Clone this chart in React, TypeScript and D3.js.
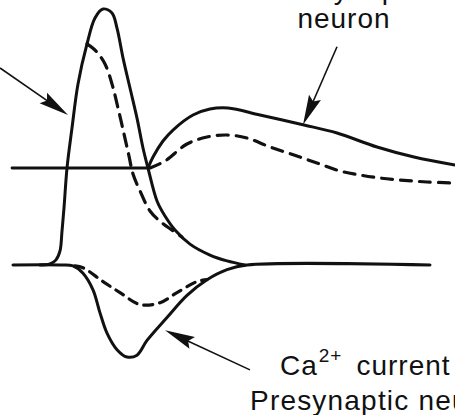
import React from 'react';
import * as d3 from 'd3';

const W = 455;
const H = 415;

// Presynaptic action potential, control (solid) and reduced (dashed): time in ms, membrane potential in mV
const apTime = [0.8, 1.0, 1.12, 1.2, 1.24, 1.28, 1.34, 1.44, 1.56, 1.74, 1.9, 2.06, 2.24, 2.34, 2.46, 2.6, 2.74, 2.86, 2.96, 3.14, 3.3, 3.5, 3.8, 4.2, 4.54, 4.9];
const apVolt = [-70, -69.6, -68.0, -64.5, -56.7, -47.6, -32.0, -16.3, 1.0, 16.7, 26.9, 30.4, 28.8, 22.9, 11.2, -0.6, -12.4, -24.1, -32.0, -44.9, -50.8, -56.3, -61.8, -66.1, -68.4, -70];
const apDashTime = [1.74, 1.92, 2.1, 2.24, 2.36, 2.48, 2.58, 2.66, 2.82, 3.0, 3.24, 3.44, 3.64];
const apDashVolt = [16.7, 13.9, 8.8, 1.0, -8.4, -18.6, -27.3, -34.3, -41.8, -48.8, -53.5, -56.3, -59.0];

// Postsynaptic potential relative to rest, mV
const pspBaseTime = [0.24, 2.96];
const pspTime = [2.96, 3.06, 3.26, 3.46, 3.86, 4.2, 4.56, 5.2, 6.08, 6.74, 7.54, 8.28, 9.1];
const pspVolt = [0, 1.83, 4.5, 6.33, 8.83, 9.83, 10, 8.83, 7.17, 5.83, 3.5, 1.83, 0.5];
const pspDashTime = [3.0, 3.3, 3.74, 4.14, 4.54, 4.94, 5.4, 5.88, 6.34, 6.8, 7.2, 7.6, 8.0, 8.54, 9.1];
const pspDashVolt = [0, 1.17, 4.0, 5.17, 5.5, 5.0, 3.5, 2.17, 0.83, -0.5, -1.17, -1.67, -2.0, -2.33, -2.5];

// Presynaptic Ca2+ current, normalised to the control peak
const caTime = [0.26, 1.2, 1.46, 1.66, 1.86, 2.0, 2.14, 2.34, 2.54, 2.74, 2.94, 3.34, 3.74, 4.14, 4.54, 4.94, 8.6];
const caCurrent = [0, 0, -0.01, -0.09, -0.27, -0.52, -0.74, -0.92, -1.0, -0.98, -0.82, -0.57, -0.33, -0.16, -0.05, 0, 0];
const caDashTime = [1.5, 1.66, 2.06, 2.4, 2.8, 3.2, 3.54, 3.94, 4.14];
const caDashCurrent = [-0.01, -0.03, -0.18, -0.3, -0.43, -0.41, -0.3, -0.18, -0.16];

// Pointer arrows: [tailTime, tailValue, tipTime, tipValue] in the units of the trace they point to
const apArrow = [0, 7.25, 1.36, -11.2];
const pspArrow = [6.74, 20.2, 6.06, 7.2];
const caArrow = [5.0, -1.14, 3.3, -0.71];

const zipPts = (xs: number[], ys: number[]) => xs.map((x, i) => [x, ys[i]] as [number, number]);

export default function App() {
  const x = d3.scaleLinear().domain([0, 9.1]).range([0, W]);
  const yAP = d3.scaleLinear().domain([-70, 30]).range([265, 10]);
  const yPSP = d3.scaleLinear().domain([0, 10]).range([168, 108]);
  const yCa = d3.scaleLinear().domain([-1, 0]).range([357, 265]);

  const mk = (ys: d3.ScaleLinear<number, number>) =>
    d3
      .line<[number, number]>()
      .x((d) => x(d[0]))
      .y((d) => ys(d[1]))
      .curve(d3.curveCatmullRom.alpha(0.5));

  const lineAP = mk(yAP);
  const linePSP = mk(yPSP);
  const lineCa = mk(yCa);

  const ink = '#111';

  const arrow = (a: number[], ys: d3.ScaleLinear<number, number>, key: string) => {
    const x0 = x(a[0]);
    const y0 = ys(a[1]);
    const x1 = x(a[2]);
    const y1 = ys(a[3]);
    const ang = Math.atan2(y1 - y0, x1 - x0);
    const len = 30;
    const hw = 6.5;
    const bx = x1 - len * Math.cos(ang);
    const by = y1 - len * Math.sin(ang);
    const nx = -Math.sin(ang) * hw;
    const ny = Math.cos(ang) * hw;
    const head = `M${x1},${y1}L${bx + nx},${by + ny}L${bx + (x1 - bx) * 0.15},${by + (y1 - by) * 0.15}L${bx - nx},${by - ny}Z`;
    return (
      <g key={key}>
        <line x1={x0} y1={y0} x2={bx + (x1 - bx) * 0.3} y2={by + (y1 - by) * 0.3} stroke={ink} strokeWidth={1.6} />
        <path d={head} fill={ink} />
      </g>
    );
  };

  const font = 'Liberation Sans, Arial, Helvetica, sans-serif';

  return (
    <svg
      width={W}
      height={H}
      viewBox={`0 0 ${W} ${H}`}
      style={{ position: 'absolute', left: 0, top: 0, background: '#fff' }}
    >
      <rect width={W} height={H} fill="#fff" />
      <g fill="none" stroke={ink} strokeLinecap="round" strokeLinejoin="round">
        {/* postsynaptic resting level */}
        <path d={linePSP(zipPts(pspBaseTime, [0, 0])) || ''} strokeWidth={2.8} />
        {/* calcium current with shared baseline */}
        <path d={lineCa(zipPts(caTime, caCurrent)) || ''} strokeWidth={3} />
        <path d={lineCa(zipPts(caDashTime, caDashCurrent)) || ''} strokeWidth={3.2} strokeDasharray="9 7" />
        {/* presynaptic spike */}
        <path d={lineAP(zipPts(apTime, apVolt)) || ''} strokeWidth={3} />
        <path d={lineAP(zipPts(apDashTime, apDashVolt)) || ''} strokeWidth={3.2} strokeDasharray="12 8" />
        {/* postsynaptic response */}
        <path d={linePSP(zipPts(pspTime, pspVolt)) || ''} strokeWidth={3} />
        <path d={linePSP(zipPts(pspDashTime, pspDashVolt)) || ''} strokeWidth={3.2} strokeDasharray="11 8" />
      </g>

      {arrow(apArrow, yAP, 'a1')}
      {arrow(pspArrow, yPSP, 'a2')}
      {arrow(caArrow, yCa, 'a3')}

      <g fill={ink} fontFamily={font} fontSize={28} letterSpacing={1}>
        <text x={344} y={-1} textAnchor="middle">Postsynaptic</text>
        <text x={344} y={28} textAnchor="middle">neuron</text>
        <text x={280} y={375}>
          Ca
          <tspan fontSize={19} dy={-13} dx={1}>2+</tspan>
          <tspan dy={13} dx={14}>current</tspan>
        </text>
        <text x={250} y={410} letterSpacing={1.2}>Presynaptic neuron</text>
      </g>
    </svg>
  );
}
